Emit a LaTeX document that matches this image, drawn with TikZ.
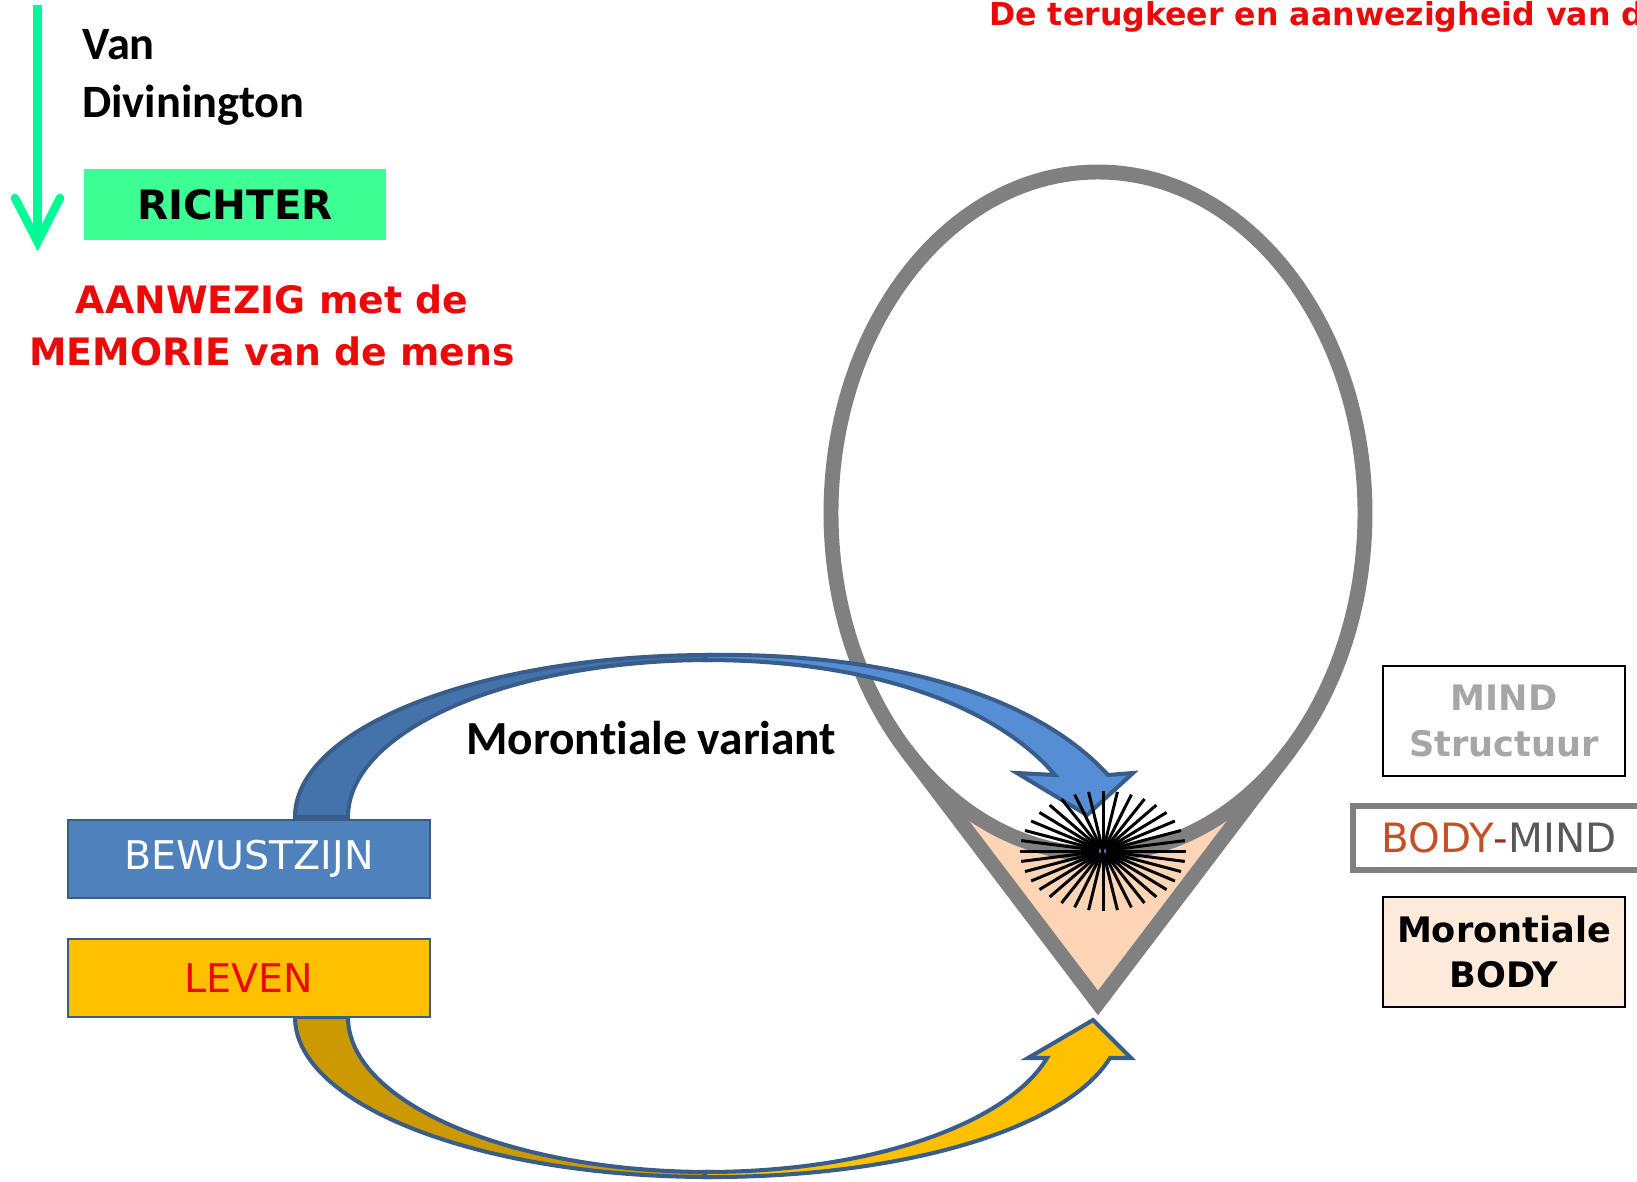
\documentclass[tikz,border=0pt]{standalone}
\usepackage{fontspec}
\setmainfont{DejaVu Sans}
\newfontfamily\calibri[Ligatures=NoCommon]{Carlito}
\newcommand\setfs[2]{\fontsize{#1}{#2}\selectfont}
\definecolor{leafgreen}{RGB}{0,250,150}
\definecolor{richtergreen}{RGB}{62,255,148}
\definecolor{alarmred}{RGB}{235,10,10}
\definecolor{loopgray}{RGB}{128,128,128}
\definecolor{peach}{RGB}{251,213,181}
\definecolor{edgeblue}{RGB}{56,93,138}
\definecolor{darkblue}{RGB}{68,114,170}
\definecolor{lightblue}{RGB}{85,142,213}
\definecolor{boxblue}{RGB}{79,129,189}
\definecolor{darkgold}{RGB}{204,153,0}
\definecolor{gold}{RGB}{255,192,0}
\definecolor{softgray}{RGB}{166,166,166}
\definecolor{bodybrown}{RGB}{196,80,40}
\definecolor{dashred}{RGB}{160,40,40}
\definecolor{mindgray}{RGB}{89,89,89}
\definecolor{skin}{RGB}{253,234,218}
\tikzset{
  box/.style={draw,inner sep=0pt,outer sep=0pt},
  band/.style={draw=edgeblue,line width=2.3pt,line join=miter},
  redtext/.style={text=alarmred,font=\bfseries\setfs{21.5}{26}},
}
\begin{document}
\begin{tikzpicture}[x=0.02cm,y=-0.02cm]
  \useasboundingbox (0,0) rectangle (1637,1181);
  \clip (0,0) rectangle (1637,1181);
  % green arrow and titles
  \draw[leafgreen,line width=4.8pt] (37.6,5) -- (37.6,236);
  \draw[leafgreen,line width=4.8pt,line cap=round] (15,198) -- (37.6,242) -- (60,198);
  \node[anchor=base west,font=\calibri\bfseries\setfs{26.4}{33}] (van) at (76,59) {Van};
  \node[anchor=base west,font=\calibri\bfseries\setfs{26.4}{33}] (divi) at (76,117) {Divinington};
  \node[box,draw=none,fill=richtergreen,minimum width=6.05cm,minimum height=1.42cm,
        font=\bfseries\setfs{23}{28}] (richter) at (235,204.5) {RICHTER};
  \node[redtext,anchor=base] (aanw) at (272,313) {AANWEZIG met de};
  \node[redtext,anchor=base] (memo) at (272,365) {MEMORIE van de mens};
  \node[anchor=base west,text=alarmred,font=\bfseries\setfs{18}{22}] (titel) at (983,25)
       {De terugkeer en aanwezigheid van de};
  % loop with the body triangle
  \coordinate (tip) at (1098,1003);
  \coordinate (tl) at (906,750);
  \coordinate (tr) at (1290,750);
  \fill[peach] (tl) -- (tip) -- (tr) -- cycle;
  \draw[loopgray,line width=8.5pt,fill=white] (1098,513) ellipse [x radius=267,y radius=341];
  \draw[loopgray,line width=8.5pt] (tl) -- (tip) -- (tr);
  % blue arrow over the top
  \filldraw[band,fill=darkblue] (295,817) arc[start angle=180,end angle=270,x radius=415,y radius=162]
    -- (710,660) arc[start angle=270,end angle=180,x radius=362,y radius=157] -- cycle;
  \filldraw[band,fill=lightblue] (705,655) .. controls (900,652) and (1040,700) .. (1108,775)
    -- (1133,773) -- (1087,815) -- (1017,773) -- (1055,775)
    .. controls (1000,710) and (880,660) .. (705,660) -- cycle;
  % yellow arrow underneath
  \filldraw[band,fill=darkgold] (295,1017) arc[start angle=180,end angle=90,x radius=415,y radius=160]
    -- (710,1172) arc[start angle=90,end angle=180,x radius=362,y radius=155] -- cycle;
  \filldraw[band,fill=gold] (705,1177) .. controls (900,1178) and (1065,1130) .. (1110,1058)
    -- (1131,1058) -- (1093,1020) -- (1028,1058) -- (1047,1058)
    .. controls (1010,1120) and (880,1172) .. (705,1172) -- cycle;
  \node[box,draw=edgeblue,line width=1.2pt,fill=boxblue,text=white,minimum width=7.24cm,
        minimum height=1.56cm,font=\setfs{22.5}{27}] (bewust) at (249,859) {BEWUSTZIJN};
  \node[box,draw=edgeblue,line width=1.2pt,fill=gold,text=alarmred,minimum width=7.24cm,
        minimum height=1.56cm,font=\setfs{22.5}{27}] (leven) at (249,978) {LEVEN};
  \node[anchor=base west,font=\calibri\bfseries\setfs{27}{33}] (variant) at (460,754) {Morontiale variant};
  % burst
  \coordinate (burst) at (1103,851);
  \foreach \a in {0,10,...,350}
    \draw[line width=1.7pt] (burst) -- ++(\a:83 and 60);
  \fill (burst) ellipse [x radius=17,y radius=8];
  \fill[lightblue] (1100,851) ellipse [x radius=0.8,y radius=2.5];
  \fill[lightblue] (1105,851) ellipse [x radius=0.8,y radius=2.5];
  % legend boxes
  \node[box,line width=1.4pt,fill=white,text=softgray,align=center,minimum width=4.84cm,
        minimum height=2.2cm,font=\bfseries\setfs{20}{26}] (mind) at (1504,721) {MIND\\Structuur};
  \node[box,draw=loopgray,line width=3.4pt,fill=white,minimum width=5.84cm,minimum height=1.28cm,
        font=\setfs{23}{28}] (bodymind) at (1499,838)
       {\textcolor{bodybrown}{BODY}\textcolor{dashred}{-}\textcolor{mindgray}{MIND}};
  \node[box,line width=1.4pt,fill=skin,align=center,minimum width=4.84cm,minimum height=2.2cm,
        font=\bfseries\setfs{20}{26}] (morbody) at (1504,952) {Morontiale\\BODY};
\end{tikzpicture}
\end{document}
